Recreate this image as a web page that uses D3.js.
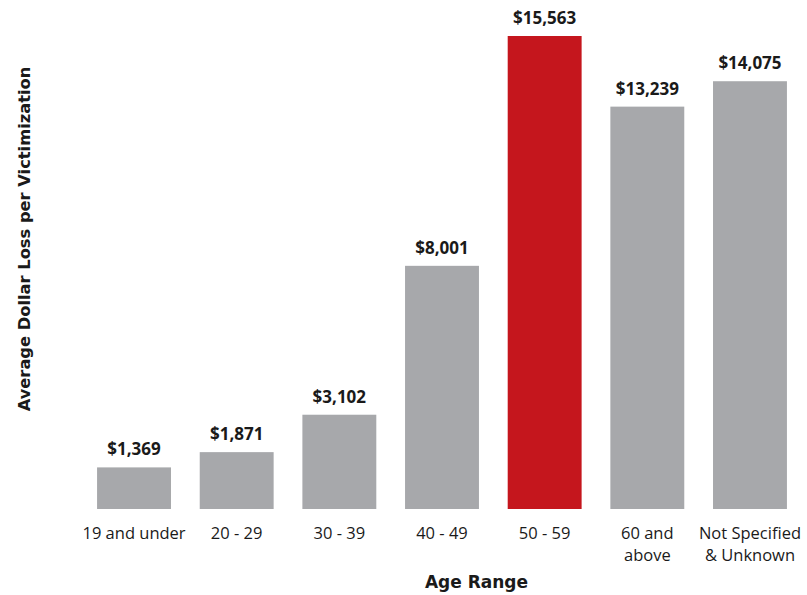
<!DOCTYPE html>
<html>
<head>
<meta charset="utf-8">
<script src="https://cdn.jsdelivr.net/npm/d3@7"></script>
<style>
  html, body { margin: 0; padding: 0; background: #fff; }
  svg { display: block; font-family: "Open Sans", sans-serif; }
</style>
</head>
<body>
<svg id="chart" width="807" height="595"></svg>
<script>
const categories = ["19 and under", "20 - 29", "30 - 39", "40 - 49", "50 - 59", "60 and\nabove", "Not Specified\n& Unknown"];
const values = [1369, 1871, 3102, 8001, 15563, 13239, 14075];
const highlight = [false, false, false, false, true, false, false];
const xTitle = "Age Range";
const yTitle = "Average Dollar Loss per Victimization";

const svg = d3.select("#chart");
const baseline = 509;
const x = d3.scaleBand().domain(categories).range([82.7, 801.3]).paddingInner(0.28).paddingOuter(0.14);
const y = d3.scaleLinear().domain([0, 15563]).range([baseline, 36]);

const data = categories.map((c, i) => ({ c, v: values[i], h: highlight[i] }));

svg.selectAll("rect.bar").data(data).join("rect")
  .attr("class", "bar")
  .attr("x", d => x(d.c))
  .attr("width", x.bandwidth())
  .attr("y", d => y(d.v))
  .attr("height", d => baseline - y(d.v))
  .attr("fill", d => d.h ? "#c5161d" : "#a7a8ab");

const fmt = d3.format("$,");
svg.selectAll("text.val").data(data).join("text")
  .attr("class", "val")
  .attr("x", d => x(d.c) + x.bandwidth() / 2)
  .attr("y", d => y(d.v) - 12)
  .attr("text-anchor", "middle")
  .attr("font-size", 17)
  .attr("font-weight", 700)
  .attr("fill", "#1a1a1a")
  .text(d => fmt(d.v));

// x axis labels
const xAxis = d3.axisBottom(x).tickSize(0).tickPadding(0);
const gx = svg.append("g").attr("transform", `translate(0,${baseline})`).call(xAxis);
gx.select(".domain").remove();
gx.selectAll(".tick text").each(function(d) {
  const t = d3.select(this);
  t.text(null).attr("y", 0).attr("dy", null)
    .attr("font-size", 16.5).attr("fill", "#1a1a1a")
    .attr("font-family", "'Open Sans', sans-serif");
  d.split("\n").forEach((line, i) => {
    t.append("tspan").attr("x", 0).attr("y", 30 + i * 22.3).text(line);
  });
});

svg.append("text")
  .attr("x", 476.5).attr("y", 588)
  .attr("text-anchor", "middle")
  .attr("font-family", "'DejaVu Sans', sans-serif")
  .attr("font-size", 17).attr("font-weight", 700).attr("fill", "#1a1a1a")
  .text(xTitle);

svg.append("text")
  .attr("transform", "translate(29.5,239) rotate(-90)")
  .attr("text-anchor", "middle")
  .attr("font-family", "'DejaVu Sans', sans-serif")
  .attr("font-size", 16.3).attr("font-weight", 700).attr("fill", "#1a1a1a")
  .text(yTitle);
</script>
</body>
</html>
